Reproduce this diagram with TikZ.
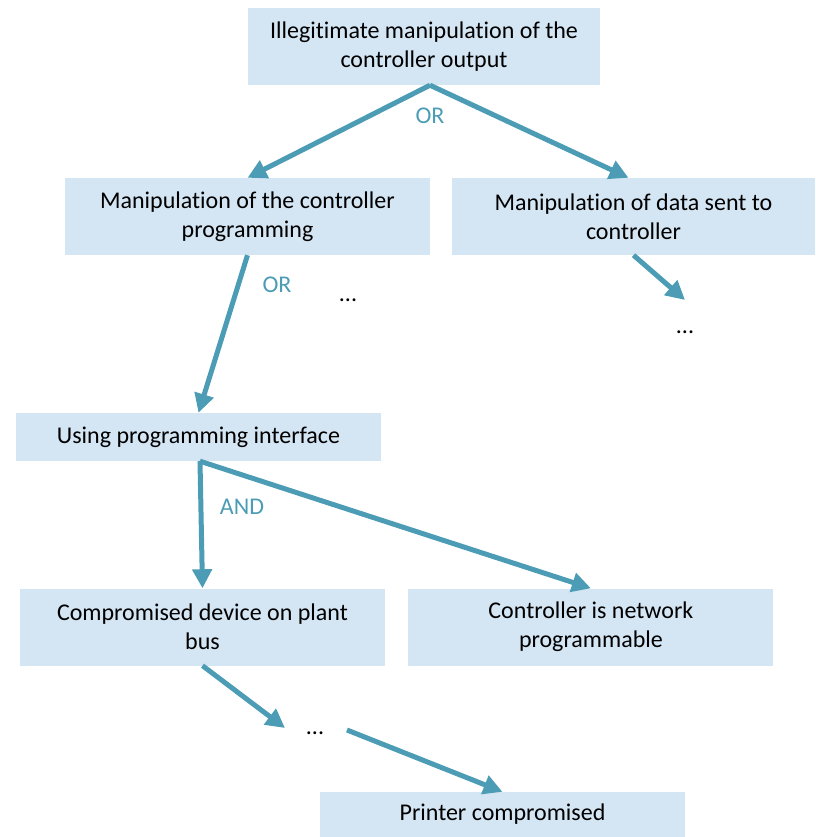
\documentclass[tikz,border=0pt]{standalone}
\usepackage{fontspec}
\setmainfont{Carlito}[Ligatures=NoCommon]
\usetikzlibrary{positioning,arrows.meta}
\definecolor{boxblue}{HTML}{D4E5F3}
\definecolor{linkblue}{HTML}{4B9CB4}

\begin{document}
\begin{tikzpicture}[
        x=1pt, y=-1pt,
        >={Triangle[length=19pt,width=19pt]},
        box/.style={
            fill=boxblue,
            minimum width=365pt,
            minimum height=77pt,
            align=center,
            inner sep=0pt,
            font=\fontsize{24}{29}\selectfont
        },
        link/.style={->, draw=linkblue, line width=5pt},
        gate/.style={text=linkblue, font=\fontsize{24}{29}\selectfont},
        more/.style={font=\fontsize{24}{29}\selectfont}
    ]
        \useasboundingbox (0,0) rectangle (815,837);
        \node[box, minimum width=352pt] (goal) at (424,46.5) {Illegitimate manipulation of the\\controller output};
        \node[box] (prog) at (247.5,216.5) {Manipulation of the controller\\programming};
        \node[box, minimum width=363pt] (data) at (633.5,216.5) {Manipulation of data sent to\\controller};
        \node[box, minimum height=48pt] (iface) at (198.5,437) {Using programming interface};
        \node[box] (plant) at (202.5,627) {Compromised device on plant\\bus};
        \node[box, right=23pt of plant] (netprog) {Controller is network\\programmable};
        \node[box, minimum height=45pt] (printer) at (502.5,814.5) {Printer compromised};

        % gates and open ends
        \node[gate] (or1) at (430,116) {OR};
        \node[gate] (or2) at (277,285) {OR};
        \node[gate] (and1) at (242,507) {AND};
        \node[more] (moreA) at (348,300) {...};
        \node[more] (moreB) at (685,332) {...};
        \node[more] (moreC) at (315,733) {...};
        \coordinate (dataend) at (685,300);
        \coordinate (plantend) at (285,728);
        \coordinate (chainstart) at (347,730);

        \draw[link] ([xshift=6pt]goal.south) -- (prog.north);
        \draw[link] ([xshift=6pt]goal.south) -- ([xshift=-5pt]data.north);
        \draw[link] (prog.south) -- (iface.north);
        \draw[link] (data.south) -- (dataend);
        \draw[link] ([xshift=1.5pt]iface.south) -- (plant.north);
        \draw[link] ([xshift=1.5pt]iface.south) -- (netprog.north);
        \draw[link] (plant.south) -- (plantend);
        \draw[link] (chainstart) -- (printer.north);
    \end{tikzpicture}
\end{document}
